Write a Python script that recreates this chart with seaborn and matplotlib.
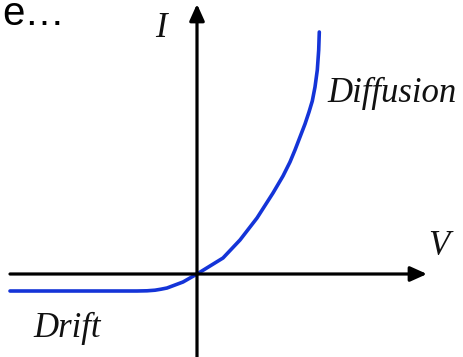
import matplotlib
matplotlib.use("Agg")
import matplotlib.pyplot as plt
import seaborn as sns
import pandas as pd

# curve (V right of origin, I up from origin)
volts = [-187, -120, -60, -50, -42, -36, -30, -22, -14, -7, 0, 13, 26, 43, 60, 76, 86, 93,
         98, 103, 108, 112, 115.3, 118, 120.3, 121.7, 122.3]
current = [-17, -17, -17, -16.8, -16.2, -15.2, -14, -11, -8, -4, 0, 8, 16, 34, 56, 81, 98, 112,
           124, 137, 150, 162, 173, 187, 204, 224, 242]

labels = {'I': 'I', 'V': 'V', 'diff': 'Diffusion', 'drift': 'Drift'}

sns.set_style('white')

fig = plt.figure(figsize=(4.63, 3.57), dpi=100)
ax = fig.add_axes([0, 0, 1, 1])
ax.set_xlim(-197, 266)
ax.set_ylim(-83, 274)
ax.axis('off')

# axes with arrow heads
arrow = dict(arrowstyle='-|>,head_length=1.0,head_width=0.45', color='black', lw=2.3, shrinkA=0, shrinkB=0)
ax.annotate('', xy=(230, 0), xytext=(-187, 0), arrowprops=arrow)
ax.annotate('', xy=(0, 270), xytext=(0, -83), arrowprops=arrow)

df = pd.DataFrame({'V': volts, 'I': current})
sns.lineplot(data=df, x='V', y='I', sort=False, estimator=None, color='#1434d8', lw=2.6, ax=ax)

serif = dict(family='Liberation Serif', style='italic', fontsize=25, color='#111111')
ax.text(-42, 237, labels['I'], **serif)
ax.text(231, 19, labels['V'], **serif)
ax.text(130, 172, labels['diff'], **serif)
ax.text(-164, -63, labels['drift'], **serif)

ax.text(-195, 249, 'e\u2026', family='Liberation Sans', fontsize=29, color='black')

fig.savefig('out.png', dpi=100)
